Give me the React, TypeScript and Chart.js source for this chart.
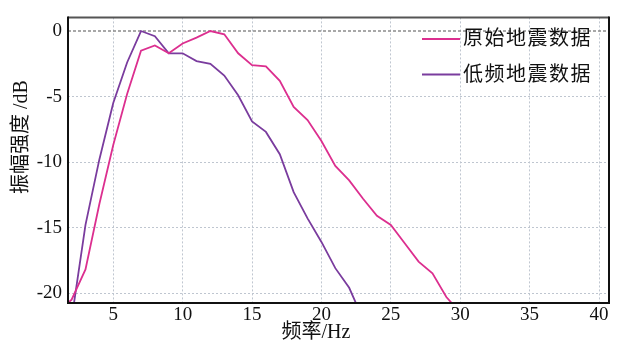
import React, { useEffect, useRef } from "react";
import { Chart, registerables } from "chart.js";

Chart.register(...registerables);

const freqOriginal = [1, 2, 3, 4, 5, 6, 7, 8, 9, 10, 11, 12, 13, 14, 15, 16, 17, 18, 19, 20, 21, 22, 23, 24, 25, 26, 27, 28, 29, 30];
const ampOriginal = [-21.5, -20.5, -18.2, -13.2, -8.7, -4.8, -1.5, -1.1, -1.7, -0.95, -0.5, 0, -0.25, -1.7, -2.6, -2.7, -3.8, -5.8, -6.8, -8.4, -10.3, -11.4, -12.8, -14.1, -14.8, -16.2, -17.6, -18.5, -20.3, -21.5];

const freqLow = [2, 3, 4, 5, 6, 7, 8, 9, 10, 11, 12, 13, 14, 15, 16, 17, 18, 19, 20, 21, 22, 23];
const ampLow = [-22, -14.8, -9.8, -5.5, -2.4, 0, -0.4, -1.7, -1.7, -2.3, -2.5, -3.4, -4.9, -6.9, -7.7, -9.4, -12.3, -14.3, -16.1, -18.1, -19.6, -22];

const seriesNames = ["原始地震数据", "低频地震数据"];
const seriesColors = ["#dc2f8f", "#7a3c9e"];
const xTicks = [5, 10, 15, 20, 25, 30, 35, 40];
const yTicks = [0, -5, -10, -15, -20];
const xTitle = "频率/Hz";
const yTitle = "振幅强度 /dB";

const FONT = "'Liberation Serif', 'Noto Sans CJK SC', serif";

const overlayPlugin = {
  id: "overlay",
  beforeDatasetsDraw(chart: any) {
    const { ctx, chartArea, scales } = chart;
    const y0 = scales.y.getPixelForValue(0);
    ctx.save();
    ctx.strokeStyle = "#8c8c8c";
    ctx.lineWidth = 1.5;
    ctx.setLineDash([3, 2]);
    ctx.beginPath();
    ctx.moveTo(chartArea.left, y0);
    ctx.lineTo(chartArea.right, y0);
    ctx.stroke();
    ctx.restore();
  },
  afterDraw(chart: any) {
    const { ctx, chartArea } = chart;
    ctx.save();
    // frame
    ctx.lineWidth = 2;
    ctx.strokeStyle = "#555";
    ctx.beginPath();
    ctx.moveTo(chartArea.left, chartArea.top);
    ctx.lineTo(chartArea.right, chartArea.top);
    ctx.stroke();
    ctx.strokeStyle = "#111";
    ctx.beginPath();
    ctx.moveTo(chartArea.left, chartArea.top - 1);
    ctx.lineTo(chartArea.left, chartArea.bottom);
    ctx.lineTo(chartArea.right, chartArea.bottom);
    ctx.lineTo(chartArea.right, chartArea.top - 1);
    ctx.stroke();

    // legend
    const rows = [39, 74.5];
    ctx.font = `20px ${FONT}`;
    (ctx as any).letterSpacing = "1.5px";
    ctx.textBaseline = "middle";
    ctx.textAlign = "left";
    seriesNames.forEach((name, i) => {
      ctx.strokeStyle = seriesColors[i];
      ctx.lineWidth = 2;
      ctx.beginPath();
      ctx.moveTo(422, rows[i]);
      ctx.lineTo(460, rows[i]);
      ctx.stroke();
      ctx.fillStyle = "#111";
      ctx.fillText(name, 463, rows[i] + 1);
    });

    // axis titles
    (ctx as any).letterSpacing = "0px";
    ctx.fillStyle = "#111";
    ctx.textAlign = "center";
    ctx.font = `20px ${FONT}`;
    ctx.fillText(xTitle, 316, 333);
    ctx.translate(22, 137);
    ctx.rotate(-Math.PI / 2);
    ctx.fillText(yTitle, 0, 0);
    ctx.restore();
  },
};

export default function App() {
  const ref = useRef<HTMLCanvasElement | null>(null);

  useEffect(() => {
    if (!ref.current) return;
    const chart = new Chart(ref.current, {
      type: "line",
      data: {
        datasets: [
          {
            label: seriesNames[0],
            data: freqOriginal.map((f, i) => ({ x: f, y: ampOriginal[i] })),
            borderColor: seriesColors[0],
            borderWidth: 1.8,
            pointRadius: 0,
            tension: 0,
          },
          {
            label: seriesNames[1],
            data: freqLow.map((f, i) => ({ x: f, y: ampLow[i] })),
            borderColor: seriesColors[1],
            borderWidth: 1.8,
            pointRadius: 0,
            tension: 0,
          },
        ],
      },
      options: {
        animation: false,
        responsive: false,
        layout: { padding: { top: 10, right: 11, left: 0, bottom: 0 } },
        plugins: {
          legend: { display: false },
          tooltip: { enabled: false },
        },
        scales: {
          x: {
            type: "linear",
            min: 1.74,
            max: 40.72,
            afterBuildTicks: (scale: any) => {
              scale.ticks = xTicks.map((v) => ({ value: v }));
            },
            afterFit: (scale: any) => {
              scale.height = 42;
            },
            ticks: {
              font: { family: FONT, size: 19 },
              color: "#111",
              padding: 1,
              maxRotation: 0,
              autoSkip: false,
            },
            grid: {
              color: "#bfc6d0",
              lineWidth: 1,
              drawTicks: false,
            },
            border: { display: false, dash: [2, 2] },
          },
          y: {
            type: "linear",
            min: -20.76,
            max: 1.04,
            afterBuildTicks: (scale: any) => {
              scale.ticks = yTicks.map((v) => ({ value: v }));
            },
            afterFit: (scale: any) => {
              scale.width = 68;
            },
            ticks: {
              font: { family: FONT, size: 19 },
              color: "#111",
              padding: 6,
              autoSkip: false,
            },
            grid: {
              color: (c: any) => (c.tick && c.tick.value === 0 ? "rgba(0,0,0,0)" : "#bfc6d0"),
              lineWidth: 1,
              drawTicks: false,
            },
            border: { display: false, dash: [2, 2] },
          },
        },
      },
      plugins: [overlayPlugin],
    } as any);
    return () => chart.destroy();
  }, []);

  return (
    <div style={{ position: "fixed", left: 0, top: 0, width: 620, height: 345, background: "#fff" }}>
      <canvas ref={ref} width={620} height={345} />
    </div>
  );
}
